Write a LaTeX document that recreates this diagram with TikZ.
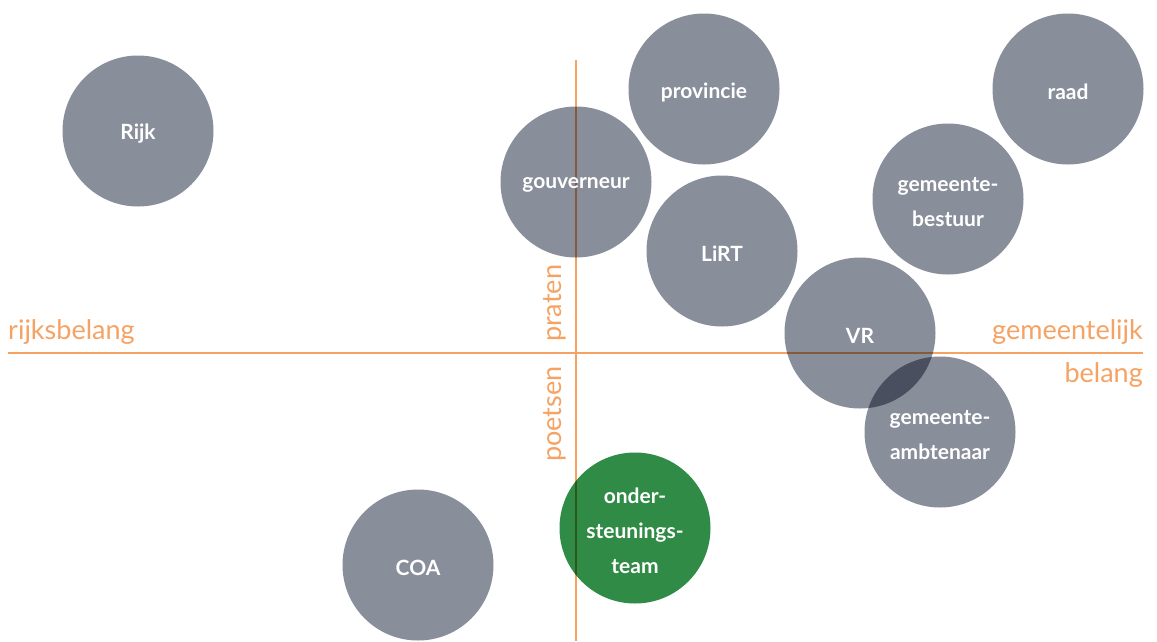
\documentclass[tikz,border=0pt]{standalone}
\usepackage{fontspec}
\setmainfont{Lato}
\definecolor{circgray}{HTML}{898E9B}
\definecolor{circgreen}{HTML}{2F8B45}
\definecolor{axisorange}{HTML}{F6A263}
\begin{document}
\begin{tikzpicture}[x=1pt,y=-1pt,
  disc/.style={circle,fill=circgray,minimum size=151pt,inner sep=0pt,blend mode=multiply},
  greendisc/.style={disc,fill=circgreen},
  lbl/.style={text=white,font=\fontsize{21}{35}\selectfont\bfseries,align=center,inner sep=0pt,yshift=-3pt},
  axislabel/.style={text=axisorange,font=\fontsize{27}{32}\selectfont,inner sep=0pt}]
\useasboundingbox (0,0) rectangle (1157,641);
\fill[white] (0,0) rectangle (1157,641);
% axes
\coordinate (hl) at (8,353);
\coordinate (hr) at (1143,353);
\coordinate (vt) at (576,60);
\coordinate (vb) at (576,641);
\draw[axisorange,line width=1.3pt] (hl) -- (hr);
\draw[axisorange,line width=1.3pt] (vt) -- (vb);
% labels
\node[axislabel,anchor=base west] (rb) at (8,339) {rijksbelang};
\node[axislabel,anchor=base east] (gl) at (1143,339) {gemeentelijk};
\node[axislabel,anchor=base east] (bl) at (1143,382) {belang};
\node[axislabel,rotate=90,anchor=base west] (pr) at (561,342) {praten};
\node[axislabel,rotate=90,anchor=base west] (po) at (561,462) {poetsen};
% circles
\node[disc] (rijk) at (138,131) {};
\node[disc] (prov) at (704,89) {};
\node[disc] (raad) at (1068,89) {};
\node[disc] (gouv) at (576,182) {};
\node[disc] (gbest) at (948,199) {};
\node[disc] (lirt) at (722,251) {};
\node[disc] (vr) at (860,333) {};
\node[disc] (gamb) at (940,432) {};
\node[disc] (coa) at (418,565) {};
\node[greendisc] (ost) at (635,528) {};
% texts
\node[lbl] at (rijk) {Rijk};
\node[lbl] at (prov) {provincie};
\node[lbl] at (raad) {raad};
\node[lbl] at (gouv) {gouverneur};
\node[lbl] at (gbest) {gemeente-\\bestuur};
\node[lbl] at (lirt) {LiRT};
\node[lbl] at (vr) {VR};
\node[lbl] at (gamb) {gemeente-\\ambtenaar};
\node[lbl] at (coa) {COA};
\node[lbl] at (ost) {onder-\\steunings-\\team};
\end{tikzpicture}
\end{document}
